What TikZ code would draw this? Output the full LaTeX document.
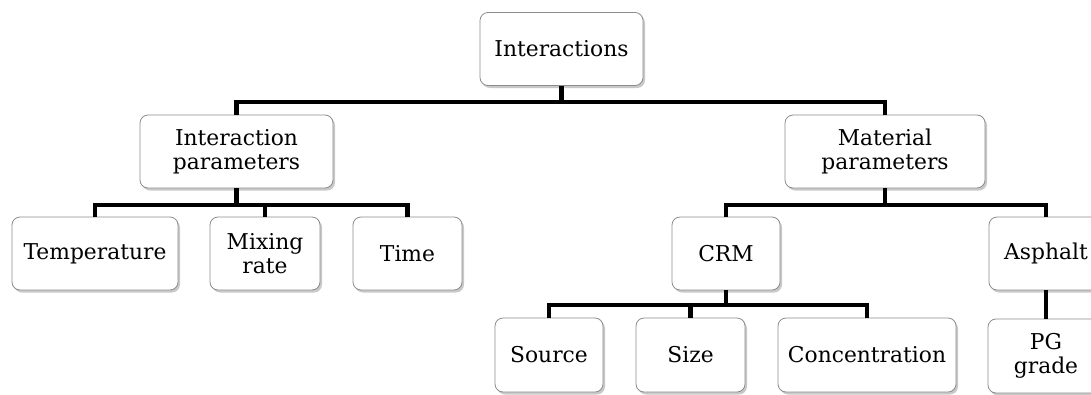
\documentclass[tikz,border=0pt]{standalone}
\usepackage{fontspec}
\setmainfont{DejaVu Serif}
\usetikzlibrary{shadows}
\tikzset{
  box/.style={draw=black!45, line width=0.8pt, fill=white, rounded corners=8pt,
    align=center, inner sep=0pt, minimum height=73pt,
    font=\fontsize{21.8}{24.5}\selectfont,
    drop shadow={shadow xshift=2pt, shadow yshift=-2.5pt, fill=black!35, opacity=0.6}},
  conn/.style={line width=4.3pt, black}
}
\begin{document}
\begin{tikzpicture}[x=1pt,y=-1pt]
\useasboundingbox (0,0) rectangle (1091,394);
\clip (0,0) rectangle (1091,394);
\fill[white] (0,0) rectangle (1091,394);
% bar levels
\coordinate (b1) at (0,102);
\coordinate (b2) at (0,205);
\coordinate (b3) at (0,305);
% nodes
\node[box, minimum width=163pt] (top) at (561.5,49) {Interactions};
\node[box, minimum width=193pt] (ip) at (236.5,151.5) {Interaction\\parameters};
\node[box, minimum width=200pt] (mp) at (885,151.5) {Material\\parameters};
\node[box, minimum width=166pt] (temp) at (95,253.5) {Temperature};
\node[box, minimum width=110pt] (mix) at (265,253.5) {Mixing\\rate};
\node[box, minimum width=109pt] (time) at (407.5,253.5) {Time};
\node[box, minimum width=108pt] (crm) at (726,253.5) {CRM};
\node[box, minimum width=114pt] (asph) at (1046,253.5) {Asphalt};
\node[box, minimum width=108pt, minimum height=74pt] (src) at (549,355) {Source};
\node[box, minimum width=109pt, minimum height=74pt] (size) at (690.5,355) {Size};
\node[box, minimum width=178pt, minimum height=74pt] (conc) at (867,355) {Concentration};
\node[box, minimum width=116pt, minimum height=74pt] (pg) at (1046,356) {PG\\grade};
% connectors
\foreach \c in {ip,mp} \draw[conn] (top.south) -- (top.south |- b1) -| (\c.north);
\foreach \c in {temp,mix,time} \draw[conn] (ip.south) -- (ip.south |- b2) -| (\c.north);
\foreach \c in {crm,asph} \draw[conn] (mp.south) -- (mp.south |- b2) -| (\c.north);
\foreach \c in {src,size,conc} \draw[conn] (crm.south) -- (crm.south |- b3) -| (\c.north);
\draw[conn] (asph.south) -- (pg.north);
\end{tikzpicture}
\end{document}
